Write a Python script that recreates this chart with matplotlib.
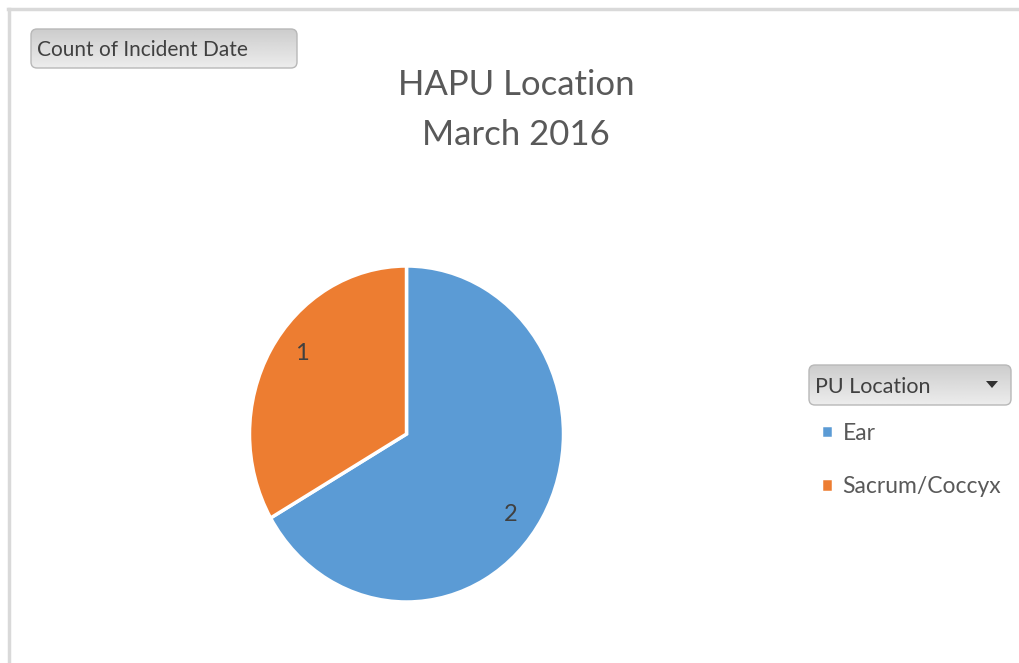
import matplotlib
matplotlib.use("Agg")
import matplotlib.pyplot as plt
import numpy as np
from matplotlib.patches import FancyBboxPatch, Polygon
from matplotlib.lines import Line2D

categories = ["Ear", "Sacrum/Coccyx"]
counts = [2, 1]
colors = ["#5B9BD5", "#ED7D31"]
title_lines = ["HAPU Location", "March 2016"]
field_button = "Count of Incident Date"
legend_title = "PU Location"

W, H = 1019, 663
plt.rcParams['font.family'] = ['Lato', 'DejaVu Sans']
fig = plt.figure(figsize=(W / 100, H / 100), dpi=100)
fig.patch.set_facecolor("white")

def fx(x): return x / W
def fy(y): return 1 - y / H

# chart border (top and left visible)
fig.add_artist(Line2D([fx(8), fx(1019)], [fy(9), fy(9)], color="#d9d9d9", lw=2.5))
fig.add_artist(Line2D([fx(9), fx(9)], [fy(9), fy(663)], color="#d9d9d9", lw=2.5))

def button(x0, y0, x1, y1, text, fs, ty, arrow=False):
    bax = fig.add_axes([fx(x0), fy(y1), fx(x1 - x0), (y1 - y0) / H])
    w, h = x1 - x0, y1 - y0
    bax.set_xlim(0, w)
    bax.axis("off")
    patch = FancyBboxPatch((1, 1), w - 2, h - 2,
                           boxstyle="round,pad=0,rounding_size=6",
                           fc="none", ec="#b8b8b8", lw=1.0)
    grad = np.linspace(0.93, 0.80, 50).reshape(-1, 1)
    im = bax.imshow(grad, cmap="gray", vmin=0, vmax=1, aspect="auto",
                    extent=[0, w, h, 0], origin="upper")
    bax.set_ylim(0, h)
    bax.add_patch(patch)
    im.set_clip_path(patch)
    bax.text(7, y1 - ty, text, ha="left", va="center",
             fontsize=fs, color="#404040")
    if arrow:
        cx = w - 20
        cy = h / 2 + 1
        bax.add_patch(Polygon([[cx - 6, cy + 3], [cx + 6, cy + 3], [cx, cy - 4]],
                              closed=True, fc="#303030", ec="none"))
    return bax

button(30, 28, 298, 69, field_button, 15, 50)
button(808, 364, 1012, 406, legend_title, 15.5, 387, arrow=True)

# title
fig.text(fx(516), fy(85), title_lines[0], ha="center", va="center",
         fontsize=25, color="#595959")
fig.text(fx(516), fy(135), title_lines[1], ha="center", va="center",
         fontsize=25, color="#595959")

# pie (slightly taller than wide, as in the reference)
cx, cy, rx, ry = 406.5, 434, 157, 168
ax = fig.add_axes([fx(cx - rx), fy(cy + ry), 2 * rx / W, 2 * ry / H])
wedges, texts, autotexts = ax.pie(
    counts, colors=colors, startangle=90, counterclock=False,
    wedgeprops=dict(edgecolor="white", linewidth=2.5),
    autopct=lambda p: f"{p * sum(counts) / 100:.0f}", pctdistance=0.82,
    textprops=dict(fontsize=17, color="#404040"))
rot = np.deg2rad(-6)
for t in autotexts:
    x, y = t.get_position()
    t.set_position((x * np.cos(rot) - y * np.sin(rot),
                    x * np.sin(rot) + y * np.cos(rot)))
ax.set_xlim(-1, 1)
ax.set_ylim(-1, 1)
ax.set_aspect("auto")
ax.axis("off")

# legend
leg = fig.legend(wedges, categories, loc="upper left",
                 bbox_to_anchor=(fx(800), fy(402)), frameon=False,
                 handlelength=0.55, handleheight=0.55, handletextpad=0.4,
                 labelspacing=1.4, fontsize=16.5, labelcolor="#595959")

fig.savefig("out.png", dpi=100, facecolor="white")
